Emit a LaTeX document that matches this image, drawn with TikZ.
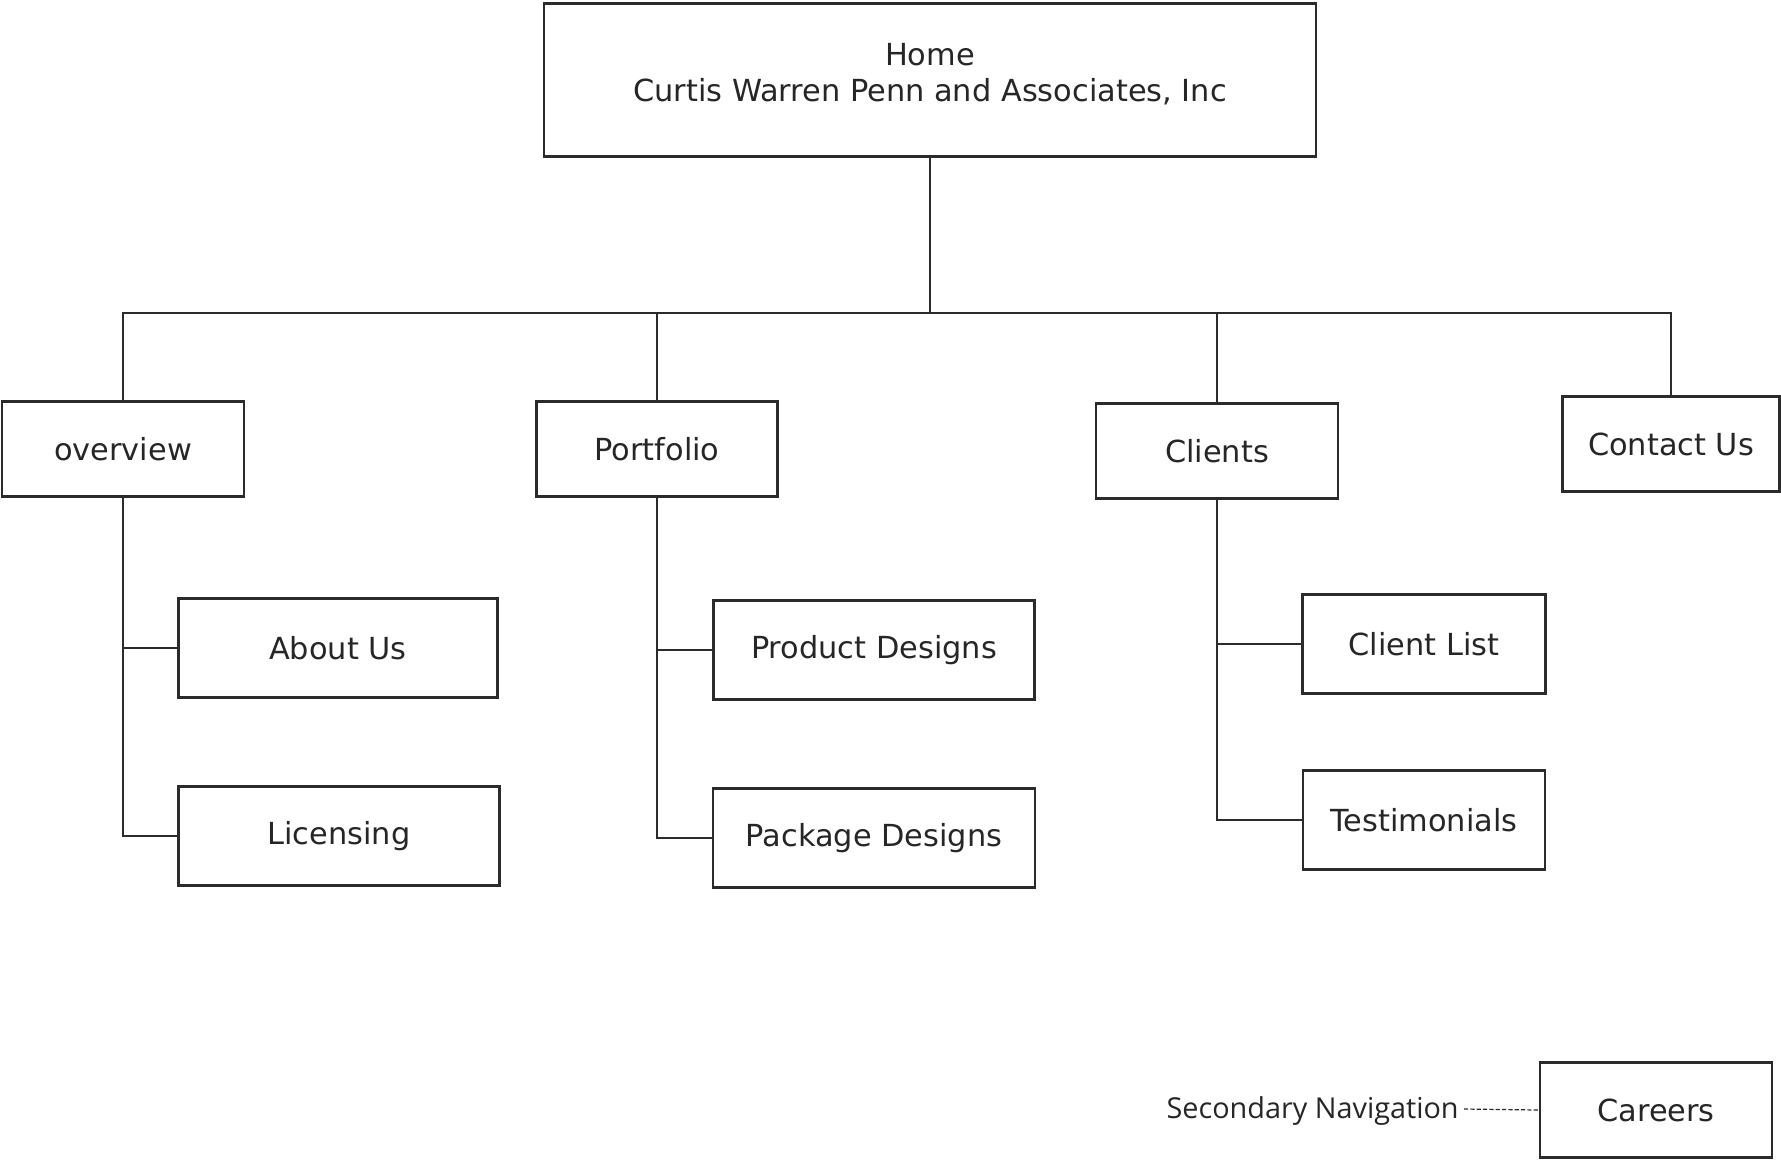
\documentclass[tikz,border=0pt]{standalone}
\usepackage{fontspec}
\setmainfont{DejaVu Sans}
\newfontfamily\navfont{Open Sans}
\definecolor{linegray}{HTML}{2B2B2B}
\tikzset{
  page/.style={draw,rectangle,line width=1.2pt,color=linegray,text=black!85,inner sep=0pt,font=\fontsize{17.3}{20.6}\selectfont,align=center},
  link/.style={line width=1.3pt,color=linegray}
}
\begin{document}
\begin{tikzpicture}[x=0.02cm,y=-0.02cm]
	  \useasboundingbox (0,0) rectangle (1781,1160);
	  \node [page,minimum width=15.46cm,minimum height=3.06cm] at (930,80) (home) {};
	  \node [text=black!85,font=\fontsize{17.3}{20.6}\selectfont,align=center] at (930,74) (title) {Home\\Curtis Warren Penn and Associates, Inc};
	  \coordinate (bus) at (930,313);
	  % top level pages
	  \foreach \x/\y/\w/\n/\t in {123/449/4.84/ov/overview, 657/449/4.82/port/Portfolio, 1217/451/4.84/cli/Clients, 1671/444/4.34/con/Contact Us}{
	  	\node [page,minimum width=\w cm,minimum height=1.9cm] at (\x,\y) (\n) {\t};
	  }
	  % second level pages
	  \foreach \x/\y/\w/\n/\t in {338/648/6.38/about/About Us, 339/836/6.42/lic/Licensing, 874/650/6.42/prod/Product Designs, 874/838/6.44/pack/Package Designs, 1424/644/4.86/clist/Client List, 1424/820/4.84/test/Testimonials}{
	  	\node [page,minimum width=\w cm,minimum height=1.98cm] at (\x,\y) (\n) {\t};
	  }
	  \node [page,minimum width=4.64cm,minimum height=1.9cm] at (1656,1110) (car) {Careers};
	  \node [anchor=east,inner sep=0pt,text=black!85,font=\navfont\fontsize{16.4}{19}\selectfont] at (1459,1111) (nav) {Secondary Navigation};
	  \draw [link] (home.south) -- (bus);
	  \foreach \n in {ov, port, cli, con}{
	  	\draw [link] (\n.north) |- (bus);
	  }
	  \foreach \a/\b in {ov/about, ov/lic, port/prod, port/pack, cli/clist, cli/test}{
	  	\draw [link] (\a.south) |- (\b.west);
	  }
	  \draw [line width=0.7pt,color=linegray,dash pattern=on 2.4pt off 1.2pt] (nav.east) ++(5,-2) -- (car.west);
\end{tikzpicture}
\end{document}
